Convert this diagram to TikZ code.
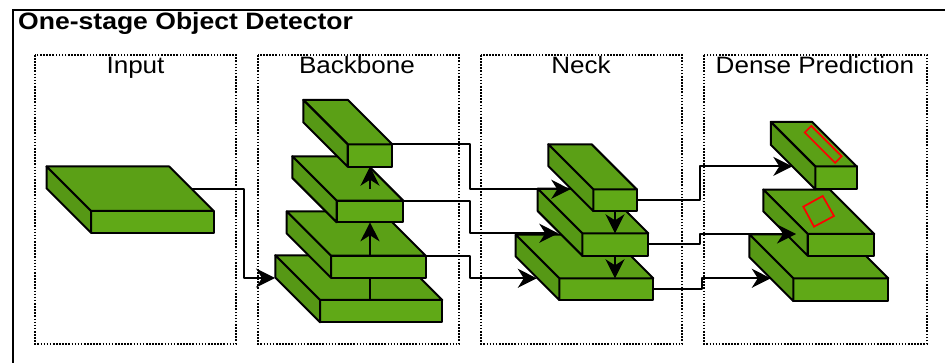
\documentclass[tikz,border=0pt]{standalone}
\usepackage{fontspec}
\setmainfont{Liberation Sans}
\usepackage{graphicx}
\usetikzlibrary{arrows.meta,calc}
\definecolor{gfront}{RGB}{96,169,23}
\definecolor{gtop}{RGB}{91,160,22}
\definecolor{gleft}{RGB}{86,152,21}
\newcommand{\wtxt}[1]{\scalebox{1.1}[1]{#1}}
\tikzset{
  slabfront/.style={draw=black, line width=2pt, fill=gfront, inner sep=0pt, outer sep=0pt, anchor=north west, line join=round},
  facetop/.style={draw=black, line width=2pt, fill=gtop, line join=round},
  faceleft/.style={draw=black, line width=2pt, fill=gleft, line join=round},
  conn/.style={draw=black, line width=2pt, line join=round, -{Stealth[length=19pt,width=19pt,inset=6pt]}},
  plainline/.style={draw=black, line width=2pt},
  stagebox/.style={draw=black, line width=2pt, dash pattern=on 1.6pt off 1.5pt},
  lab/.style={anchor=base, inner sep=0pt, font=\fontsize{23.7}{28}\selectfont},
  redmark/.style={draw=red, line width=1.7pt, line join=miter}
}
\newcommand{\slab}[6]{%
  \node[slabfront, minimum width=#4pt, minimum height=#5pt] (#1) at (#2,#3) {};
  \filldraw[facetop] (#1.north west) -- ++(-#6,-#6) -- ++(#4,0) -- (#1.north east) -- cycle;
  \filldraw[faceleft] (#1.north west) -- ++(-#6,-#6) -- ++(0,#5) -- (#1.south west) -- cycle;
}
\begin{document}
\begin{tikzpicture}[x=1pt,y=-1pt]
\clip (0,0) rectangle (945,363);
\fill[white] (0,0) rectangle (945,363);
% outer frame
\draw[line width=2.3pt] (13,10) rectangle (990,400);
\node[anchor=base west, inner sep=0pt, font=\bfseries\fontsize{23.7}{28}\selectfont] (title) at (18,30) {\scalebox{1.12}[1]{One-stage Object Detector}};
% stage boxes
\draw[stagebox] (35,55) rectangle (236,344);
\draw[stagebox] (258,55) rectangle (459,344);
\draw[stagebox] (481,55) rectangle (682,344);
\draw[stagebox] (704,55) rectangle (927,344);
\node[lab] (linput) at (135.5,73.3) {\wtxt{Input}};
\node[lab] (lback) at (357,73.3) {\wtxt{Backbone}};
\node[lab] (lneck) at (581,73.3) {\wtxt{Neck}};
\node[lab] (ldense) at (815,73.3) {\wtxt{Dense Prediction}};
% input
\slab{in1}{91}{211}{122.7}{21.7}{44.5}
% backbone
\slab{bb4}{320}{300}{122.3}{22.3}{44.7}
\slab{bb3}{331}{255.7}{94.7}{22}{44.3}
\slab{bb2}{336.7}{200.7}{66.6}{21.6}{44.4}
\slab{bb1}{347.7}{144.3}{44.6}{22.4}{44.4}
% neck
\slab{nk3}{559.3}{278.3}{94}{21.7}{43.6}
\slab{nk2}{582.3}{233.3}{66}{22.4}{44.6}
\slab{nk1}{593.3}{189.3}{43.4}{21.7}{45}
% dense prediction
\slab{dp3}{793.3}{278.3}{95}{22.7}{44}
\slab{dp2}{807.7}{234}{66.6}{21.7}{44.4}
\slab{dp1}{815.3}{166.4}{41.4}{22.9}{44.5}
% red marks
\draw[redmark] (841.7,156.3) -- (835.1,162.9) -- (804.7,132.5) -- (811.3,125.9) -- cycle;
\draw[redmark] (803.3,206.7) -- (822.7,196) -- (834,216) -- (814,226.7) -- cycle;
% connection points
\coordinate (inout) at ($(in1.north east)+(-22,-22)$);
\coordinate (bb4in) at ($(bb4.north west)+(-45,-22)$);
\coordinate (nk1in) at ($(nk1.north west)+(-23,0)$);
\coordinate (nk2in) at ($(nk2.north west)+(-24,0)$);
\coordinate (nk3in) at ($(nk3.north west)+(-22.5,0)$);
\coordinate (dp1in) at ($(dp1.north west)+(-23,0)$);
\coordinate (dp2in) at ($(dp2.north west)+(-11.7,0)$);
\coordinate (dp3in) at ($(dp3.north west)+(-22.5,0)$);
\coordinate (busa) at (244,0);
\coordinate (busb) at (470,0);
\coordinate (busc) at (700,0);
\coordinate (busd) at (701.5,0);
% input -> backbone
\draw[conn] (inout) -- (inout -| busa) |- (bb4in);
% backbone internal
\draw[plainline] (bb2.south |- bb4.north) -- (bb2.south |- bb3.south);
\draw[conn] (bb2.south |- bb3.north) -- (bb2.south);
\draw[conn] ($(bb1.south)+(0,22.3)$) -- (bb1.south);
% backbone -> neck
\draw[conn] (bb1.north east) -- (bb1.north east -| busb) |- (nk1in);
\draw[conn] (bb2.north east) -- (bb2.north east -| busb) |- (nk2in);
\draw[conn] (bb3.north east) -- (bb3.north east -| busb) |- (nk3in);
% neck internal
\draw[conn] (nk1.south) -- (nk1.south |- nk2.north);
\draw[conn] (nk1.south |- nk2.south) -- (nk1.south |- nk3.north);
% neck -> dense
\draw[conn] (nk1.east) -- (nk1.east -| busc) |- (dp1in);
\draw[conn] (nk2.east) -- (nk2.east -| busc) |- (dp2in);
\draw[conn] (nk3.east) -- (nk3.east -| busd) |- (dp3in);
\end{tikzpicture}
\end{document}
